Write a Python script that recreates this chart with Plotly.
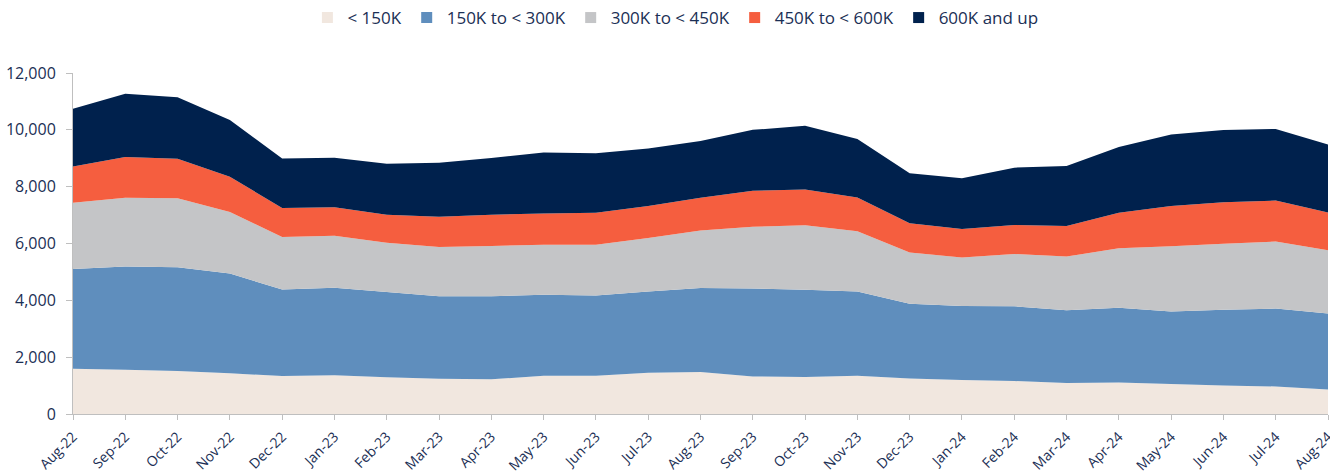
import plotly.graph_objects as go

months = ["Aug-22", "Sep-22", "Oct-22", "Nov-22", "Dec-22", "Jan-23", "Feb-23", "Mar-23",
          "Apr-23", "May-23", "Jun-23", "Jul-23", "Aug-23", "Sep-23", "Oct-23", "Nov-23",
          "Dec-23", "Jan-24", "Feb-24", "Mar-24", "Apr-24", "May-24", "Jun-24", "Jul-24", "Aug-24"]

under_150k = [1590, 1560, 1510, 1430, 1340, 1360, 1290, 1240, 1220, 1350, 1350, 1450, 1480,
              1320, 1300, 1350, 1250, 1200, 1160, 1090, 1110, 1060, 1000, 970, 860]
k150_300 = [3510, 3630, 3650, 3510, 3040, 3080, 3000, 2900, 2920, 2850, 2820, 2860, 2950,
            3100, 3070, 2960, 2630, 2600, 2630, 2560, 2630, 2550, 2670, 2740, 2680]
k300_450 = [2330, 2420, 2430, 2170, 1850, 1830, 1740, 1740, 1770, 1760, 1790, 1880, 2030,
            2170, 2270, 2120, 1800, 1710, 1840, 1890, 2090, 2290, 2320, 2360, 2220]
k450_600 = [1280, 1430, 1390, 1240, 1020, 1010, 980, 1060, 1100, 1100, 1120, 1130, 1150,
            1270, 1260, 1190, 1030, 1000, 1020, 1080, 1250, 1420, 1460, 1440, 1330]
k600_up = [2030, 2230, 2170, 2000, 1740, 1740, 1800, 1900, 2000, 2140, 2100, 2020, 2000,
           2140, 2240, 2060, 1760, 1790, 2020, 2110, 2320, 2520, 2540, 2520, 2390]

series_names = ["< 150K", "150K to < 300K", "300K to < 450K", "450K to < 600K", "600K and up"]
series_values = [under_150k, k150_300, k300_450, k450_600, k600_up]
colors = ["#F1E7DF", "#5F8EBD", "#C4C5C7", "#F55E3F", "#00214D"]

text_color = "#1B2F55"
axis_color = "#BFBFBF"

fig = go.Figure()
for name, vals, col in zip(series_names, series_values, colors):
    fig.add_trace(go.Scatter(
        x=months, y=vals, name=name, stackgroup="one", mode="none",
        fillcolor=col, line=dict(width=0), hoverinfo="x+y+name",
        legendgroup=name, showlegend=False,
    ))
# legend entries as square swatches
for name, col in zip(series_names, colors):
    fig.add_trace(go.Scatter(
        x=[None], y=[None], name=name, mode="markers",
        marker=dict(symbol="square", size=11, color=col),
        legendgroup=name, showlegend=True,
    ))

fig.update_layout(
    width=1330, height=474,
    margin=dict(l=73, r=2, t=73, b=60),
    paper_bgcolor="white", plot_bgcolor="white",
    font=dict(family="Open Sans, sans-serif", color=text_color, size=14),
    legend=dict(orientation="h", x=0.480, xanchor="center",
                y=1 - 18 / 474, yanchor="middle", yref="container",
                font=dict(size=17), itemwidth=30,
                traceorder="normal", tracegroupgap=0),
    showlegend=True,
)

fig.update_xaxes(
    type="category", range=[0, 24], tickangle=-45, automargin=False,
    showline=True, linecolor=axis_color, linewidth=1,
    ticks="outside", tickcolor=axis_color, ticklen=5, tickwidth=1,
    ticklabelstandoff=3,
    showgrid=False, tickfont=dict(size=14, color=text_color),
)
fig.update_yaxes(
    range=[0, 12000], dtick=2000, tickformat=",", automargin=False,
    showline=True, linecolor=axis_color, linewidth=1,
    ticks="outside", tickcolor=axis_color, ticklen=6, tickwidth=1,
    ticklabelstandoff=7,
    showgrid=False, zeroline=False, tickfont=dict(size=16, color=text_color),
)

fig.write_html("out.html", config={"displayModeBar": False},
               post_script="document.body.style.margin='0px';")
